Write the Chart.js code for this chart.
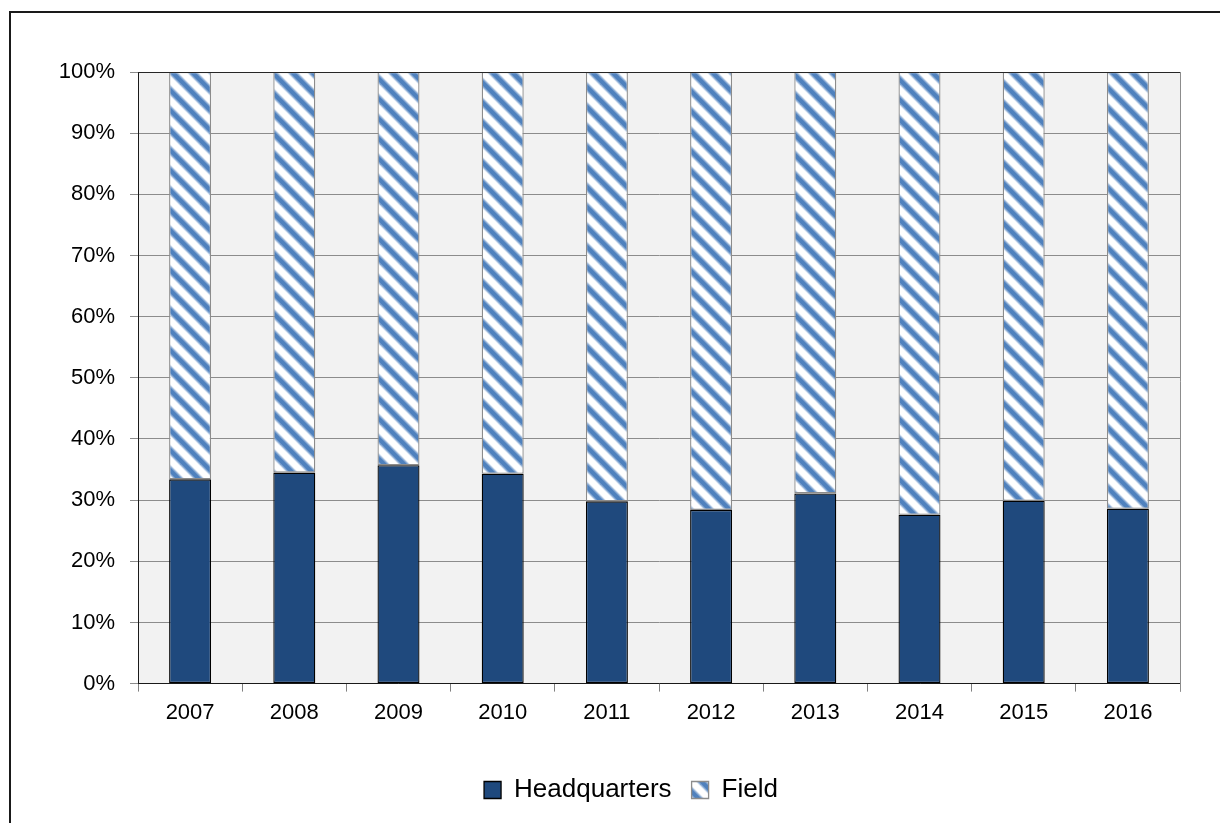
<!DOCTYPE html>
<html>
<head>
<meta charset="utf-8">
<script src="https://cdn.jsdelivr.net/npm/chart.js@4/dist/chart.umd.min.js"></script>
<style>
  html, body { margin: 0; padding: 0; background: #ffffff; }
  #frame {
    position: absolute; left: 9px; top: 11px; width: 1300px; height: 900px;
    border-left: 2px solid #1a1a1a; border-top: 2px solid #1a1a1a;
  }
  #wrap { position: absolute; left: 0; top: 0; width: 1220px; height: 823px; }
</style>
</head>
<body>
<div id="frame"></div>
<div id="wrap"><canvas id="chart" width="1220" height="823"></canvas></div>
<script>
// Staff split by location, share of total (%)
const years = ['2007', '2008', '2009', '2010', '2011', '2012', '2013', '2014', '2015', '2016'];
const headquarters = [33.4, 34.5, 35.7, 34.3, 29.8, 28.4, 31.1, 27.6, 29.9, 28.6];
const field = [66.6, 65.5, 64.3, 65.7, 70.2, 71.6, 68.9, 72.4, 70.1, 71.4];
const yTicks = [0, 10, 20, 30, 40, 50, 60, 70, 80, 90, 100];

// Diagonal blue hatch used for the Field segments (soft-edged stripes)
function makeHatch() {
  const s = 20;
  const c = document.createElement('canvas');
  c.width = s; c.height = s;
  const g = c.getContext('2d');
  g.fillStyle = '#ffffff';
  g.fillRect(0, 0, s, s);
  g.lineCap = 'square';
  const strokes = [['#c6d6eb', 8], ['#7fa3d0', 6], ['#4f81bd', 4]];
  for (const [col, w] of strokes) {
    g.strokeStyle = col;
    g.lineWidth = w;
    for (const o of [-s, 0, s]) {
      g.beginPath();
      g.moveTo(o, 0);
      g.lineTo(o + s, s);
      g.stroke();
    }
  }
  return g.createPattern(c, 'repeat');
}

// Grey plot background, right edge line and dark top line
const plotFrame = {
  id: 'plotFrame',
  beforeDraw(chart) {
    const a = chart.chartArea, ctx = chart.ctx;
    ctx.save();
    ctx.fillStyle = '#f2f2f2';
    ctx.fillRect(a.left, a.top, a.right - a.left, a.bottom - a.top);
    ctx.restore();
  },
  afterDatasetsDraw(chart) {
    const a = chart.chartArea, ctx = chart.ctx;
    ctx.save();
    ctx.strokeStyle = '#8c8c8c';
    ctx.lineWidth = 1;
    ctx.beginPath();
    ctx.moveTo(Math.round(a.right) + 0.5, a.top);
    ctx.lineTo(Math.round(a.right) + 0.5, a.bottom + 8);
    ctx.stroke();
    ctx.strokeStyle = '#262626';
    ctx.beginPath();
    ctx.moveTo(a.left, Math.round(a.top) + 0.5);
    ctx.lineTo(a.right, Math.round(a.top) + 0.5);
    ctx.stroke();
    ctx.restore();
  }
};

// Nudge the legend so it sits centred under the plot as laid out
const LEGEND_SHIFT = 31;
const legendShift = {
  id: 'legendShift',
  afterLayout(chart) {
    const lg = chart.legend;
    if (lg) { lg.left += LEGEND_SHIFT; lg.right += LEGEND_SHIFT; }
  }
};

const FONT = "'Liberation Sans', Arial, sans-serif";

new Chart(document.getElementById('chart'), {
  type: 'bar',
  data: {
    labels: years,
    datasets: [
      {
        label: 'Headquarters',
        data: headquarters,
        backgroundColor: '#1f497d',
        borderColor: '#000000',
        borderWidth: 1.3,
        borderSkipped: false
      },
      {
        label: 'Field',
        data: field,
        backgroundColor: makeHatch(),
        borderColor: '#8c8c8c',
        borderWidth: 1.3,
        borderSkipped: false
      }
    ]
  },
  options: {
    responsive: false,
    animation: false,
    devicePixelRatio: 1,
    layout: { padding: { top: 72, right: 40, left: 20, bottom: 10 } },
    datasets: { bar: { barPercentage: 0.403, categoryPercentage: 1 } },
    scales: {
      x: {
        stacked: true,
        offset: true,
        afterFit(scale) { scale.height = scale.height + 23; },
        grid: { offset: true, drawOnChartArea: false, drawTicks: true, tickLength: 8, color: '#808080' },
        border: { color: '#1a1a1a', width: 1 },
        ticks: { color: '#000000', font: { family: FONT, size: 22 }, padding: 8, maxRotation: 0 }
      },
      y: {
        stacked: true,
        min: 0,
        max: 100,
        afterBuildTicks(scale) { scale.ticks = yTicks.map(v => ({ value: v })); },
        afterFit(scale) { scale.width = 118; },
        grid: { color: '#8c8c8c', tickLength: 8, drawTicks: true },
        border: { color: '#1a1a1a', width: 1 },
        ticks: {
          color: '#000000',
          font: { family: FONT, size: 22 },
          padding: 15,
          callback: v => v + '%'
        }
      }
    },
    plugins: {
      legend: {
        position: 'bottom',
        labels: {
          color: '#000000',
          font: { family: FONT, size: 26 },
          boxWidth: 17,
          boxHeight: 17,
          padding: 20
        }
      },
      tooltip: { enabled: false }
    }
  },
  plugins: [plotFrame, legendShift]
});
</script>
</body>
</html>
